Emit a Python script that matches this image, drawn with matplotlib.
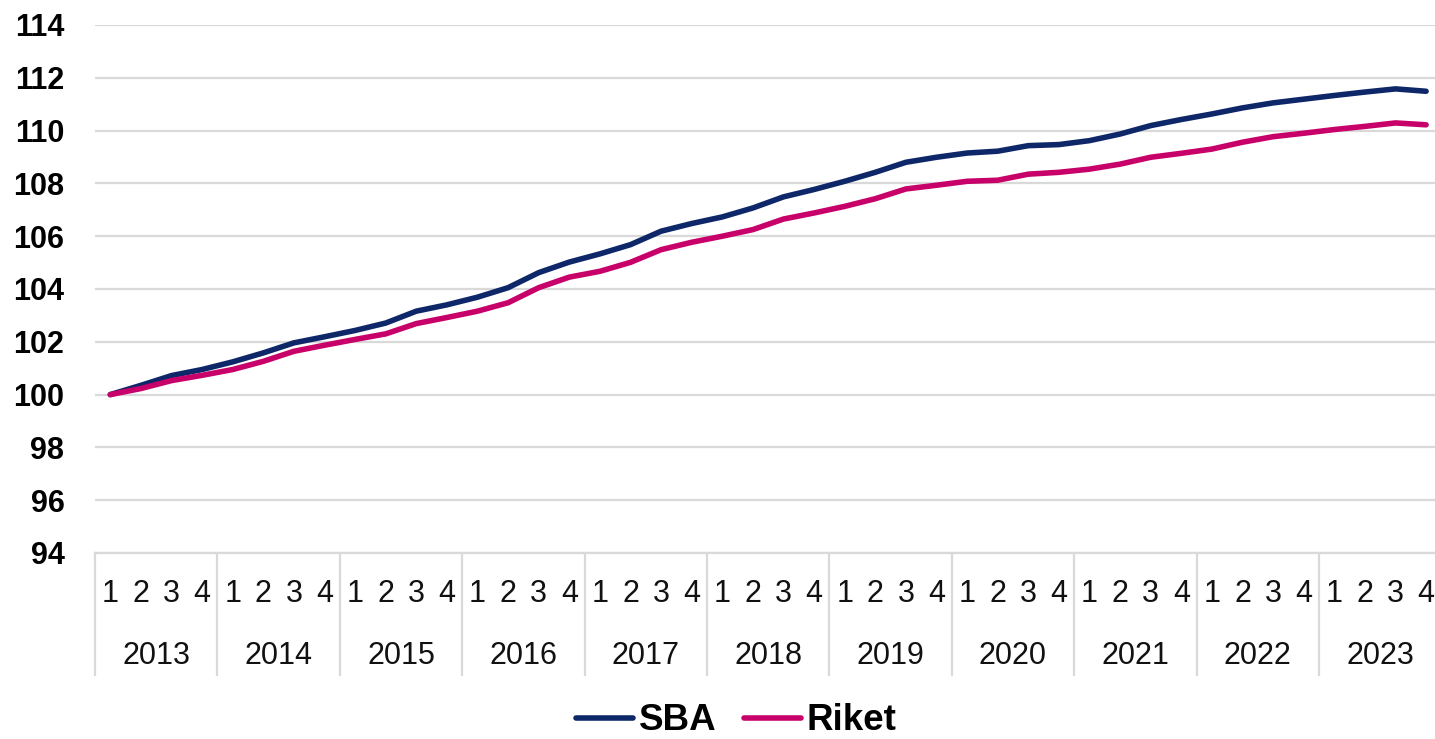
import matplotlib
matplotlib.use("Agg")
import matplotlib.pyplot as plt
import numpy as np

plt.rcParams['font.family'] = ['Liberation Sans', 'DejaVu Sans']

years = ['2013', '2014', '2015', '2016', '2017', '2018', '2019', '2020', '2021', '2022', '2023']
quarters = ['1', '2', '3', '4']

sba = [100.00, 100.35, 100.72, 100.95, 101.24, 101.58, 101.96, 102.19,
       102.43, 102.71, 103.16, 103.40, 103.69, 104.05, 104.62, 105.02,
       105.33, 105.68, 106.19, 106.48, 106.73, 107.07, 107.49, 107.77,
       108.08, 108.42, 108.80, 108.99, 109.15, 109.22, 109.43, 109.47,
       109.62, 109.87, 110.19, 110.42, 110.63, 110.86, 111.05, 111.19,
       111.33, 111.46, 111.58, 111.49]
riket = [100.00, 100.23, 100.53, 100.73, 100.95, 101.26, 101.64, 101.87,
         102.09, 102.30, 102.69, 102.92, 103.16, 103.48, 104.05, 104.45,
         104.67, 105.01, 105.49, 105.77, 106.00, 106.25, 106.65, 106.88,
         107.13, 107.42, 107.79, 107.93, 108.08, 108.12, 108.35, 108.42,
         108.54, 108.73, 108.99, 109.14, 109.30, 109.56, 109.77, 109.90,
         110.04, 110.16, 110.29, 110.22]

W, H = 1435, 739
fig = plt.figure(figsize=(W / 100, H / 100), dpi=100)
ax = fig.add_axes([95 / W, 1 - 553 / H, 1346.4 / W, 528 / H])

x = np.arange(len(sba))
grid_col = '#d9d9d9'
ax.plot(x, sba, color='#0d2768', lw=4, solid_capstyle='round', label='SBA', zorder=3)
ax.plot(x, riket, color='#c8006a', lw=4, solid_capstyle='round', label='Riket', zorder=3)

ax.set_xlim(-0.5, len(sba) - 0.5)
ax.set_ylim(94, 114)
ax.set_yticks(np.arange(94, 115, 2))
ax.yaxis.grid(True, color=grid_col, lw=1.6)
ax.set_axisbelow(True)
for s in ['top', 'right', 'left']:
    ax.spines[s].set_visible(False)
ax.spines['bottom'].set_color(grid_col)
ax.spines['bottom'].set_linewidth(1.6)
ax.set_xticks([])
ax.tick_params(axis='y', length=0, pad=22, labelsize=22)
for lab in ax.get_yticklabels():
    lab.set_fontweight('bold')

# category axis: quarters + years with separators
trans = ax.get_xaxis_transform()
ah = 528
for yi, yr in enumerate(years):
    for qi, q in enumerate(quarters):
        ax.text(yi * 4 + qi, -(594 - 553) / ah, q, transform=trans,
                ha='center', va='center', fontsize=22, color='#111111')
    ax.text(yi * 4 + 1.5, -(656 - 553) / ah, yr, transform=trans,
            ha='center', va='center', fontsize=22, color='#111111')
for k in range(len(years) + 1):
    ax.plot([k * 4 - 0.5] * 2, [0, -(675 - 553) / ah], transform=trans,
            color=grid_col, lw=1.6, clip_on=False)

fig.legend(loc='center', bbox_to_anchor=(736 / W, 1 - 721 / H), ncol=2,
           frameon=False, prop={'weight': 'bold', 'size': 26.5},
           handlelength=1.55, handletextpad=0.15, columnspacing=0.75)

fig.savefig('out.png', dpi=100)
